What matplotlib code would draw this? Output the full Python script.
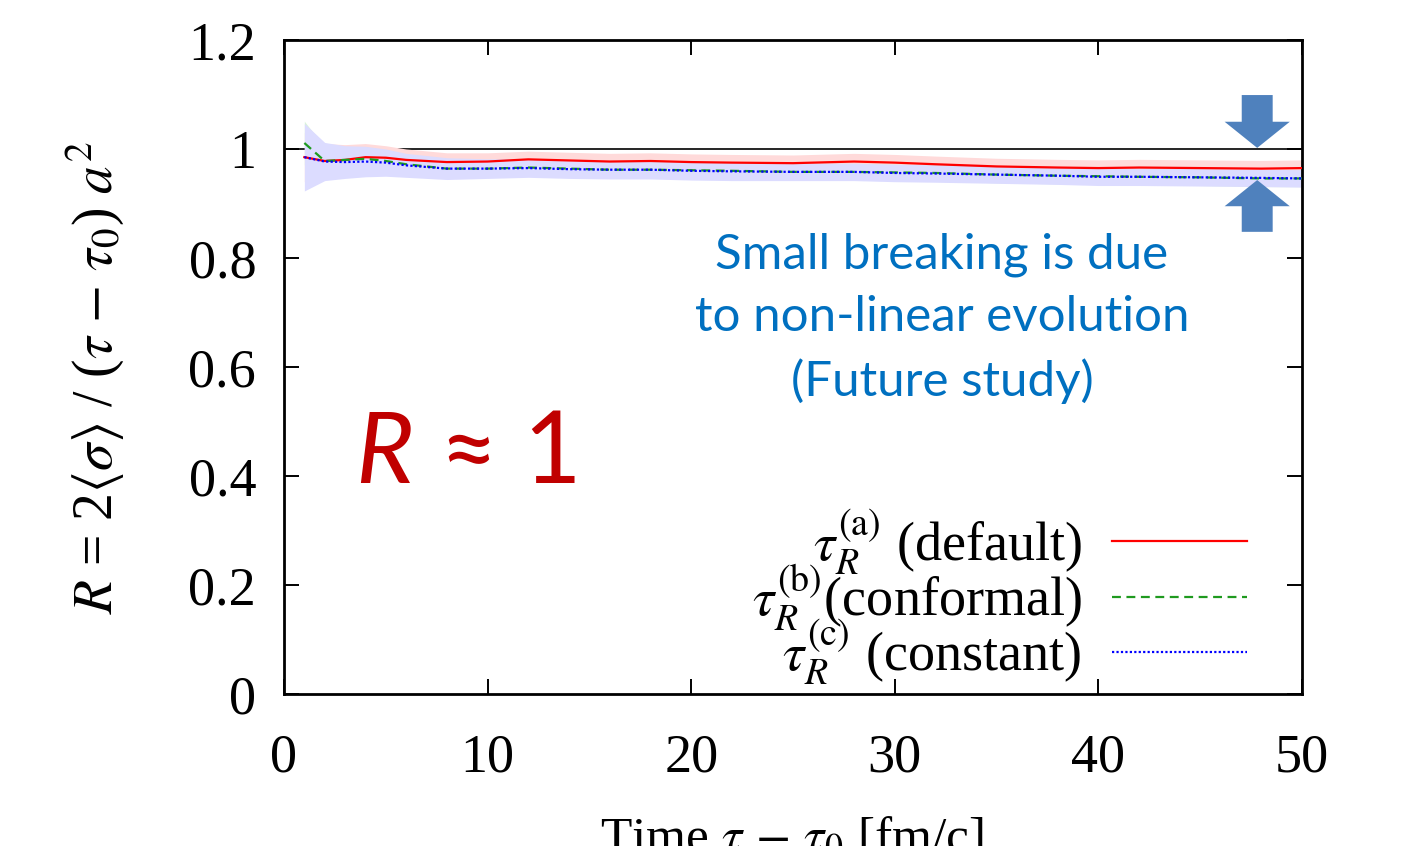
import matplotlib

matplotlib.use("Agg")
import matplotlib.pyplot as plt
from matplotlib.patches import FancyArrow

# time after tau_0 [fm/c]
TIME = [1, 2, 3, 4, 5, 6, 8, 10, 12, 14, 16, 18, 20, 22, 25, 28, 30, 32, 35, 38, 40, 42, 45, 48, 50]

# R for the three relaxation-time choices
R_DEFAULT = [0.985, 0.978, 0.980, 0.985, 0.984, 0.980, 0.976, 0.977, 0.981, 0.979, 0.977, 0.978,
             0.976, 0.975, 0.974, 0.977, 0.975, 0.972, 0.968, 0.966, 0.965, 0.966, 0.965, 0.964, 0.965]
R_CONFORMAL = [1.011, 0.978, 0.980, 0.982, 0.978, 0.972, 0.964, 0.964, 0.966, 0.964, 0.962, 0.962,
               0.961, 0.960, 0.958, 0.958, 0.957, 0.956, 0.953, 0.951, 0.950, 0.949, 0.948, 0.946, 0.946]
R_CONSTANT = [0.985, 0.977, 0.976, 0.977, 0.975, 0.970, 0.964, 0.964, 0.965, 0.963, 0.962, 0.962,
              0.960, 0.959, 0.958, 0.958, 0.956, 0.955, 0.953, 0.951, 0.949, 0.949, 0.948, 0.947, 0.946]

# half widths of the shaded bands
ERR_DEFAULT = [0.045, 0.032, 0.028, 0.025, 0.022, 0.020, 0.017, 0.016, 0.015, 0.015, 0.015, 0.015,
               0.015, 0.015, 0.015, 0.015, 0.015, 0.015, 0.015, 0.015, 0.015, 0.015, 0.015, 0.015, 0.015]
ERR_CONFORMAL = [0.040, 0.025, 0.022, 0.020, 0.018, 0.017, 0.016, 0.015, 0.015, 0.015, 0.015, 0.015,
                 0.015, 0.015, 0.015, 0.015, 0.015, 0.015, 0.015, 0.015, 0.015, 0.015, 0.015, 0.015, 0.015]
ERR_CONSTANT = [0.062, 0.035, 0.030, 0.028, 0.025, 0.022, 0.020, 0.018, 0.017, 0.017, 0.017, 0.017,
                0.017, 0.017, 0.016, 0.016, 0.016, 0.016, 0.016, 0.016, 0.016, 0.016, 0.016, 0.016, 0.016]

LABELS = [r"$\tau_R^{(\mathrm{a})}$ (default)",
          r"$\tau_R^{(\mathrm{b})}$(conformal)",
          r"$\tau_R^{(\mathrm{c})}$ (constant)"]

X_TICKS = [0, 10, 20, 30, 40, 50]
Y_TICKS = [0, 0.2, 0.4, 0.6, 0.8, 1.0, 1.2]
Y_TICKLABELS = ["0", "0.2", "0.4", "0.6", "0.8", "1", "1.2"]

LINE_COLORS = ["#ff0000", "#1f9a1f", "#0000ff"]
BAND_COLORS = ["#ffdada", "#d9f4d9", "#dcdcff"]
BLUE_NOTE = "#0070c0"
DARK_RED = "#c00000"
ARROW_BLUE = "#4f81bd"

W, H = 1406, 846

plt.rcParams["font.family"] = ["Liberation Serif", "DejaVu Serif"]
plt.rcParams["mathtext.fontset"] = "stix"

fig = plt.figure(figsize=(W / 100, H / 100), dpi=100)
ax = fig.add_axes([284 / W, 1 - 694 / H, (1302 - 284) / W, (694 - 40) / H])

ax.axhline(1.0, color="black", linewidth=1.2, zorder=1)

series = [R_DEFAULT, R_CONFORMAL, R_CONSTANT]
errors = [ERR_DEFAULT, ERR_CONFORMAL, ERR_CONSTANT]
for vals, err, band in zip(series, errors, BAND_COLORS):
    lo = [v - e for v, e in zip(vals, err)]
    hi = [v + e for v, e in zip(vals, err)]
    ax.fill_between(TIME, lo, hi, color=band, linewidth=0, zorder=2)

styles = ["-", (0, (4, 2.5)), (0, (1, 1))]
for vals, color, ls, label in zip(series, LINE_COLORS, styles, LABELS):
    ax.plot(TIME, vals, color=color, linestyle=ls, linewidth=1.6, label=label, zorder=3)

ax.set_xlim(0, 50)
ax.set_ylim(0, 1.2)
ax.set_xticks(X_TICKS)
ax.set_xticklabels([str(x) for x in X_TICKS])
ax.set_yticks(Y_TICKS)
ax.set_yticklabels(Y_TICKLABELS)
ax.tick_params(direction="in", top=True, right=True, length=11, width=1.4, labelsize=39)
ax.tick_params(axis="x", pad=28)
ax.tick_params(axis="y", pad=20)
for spine in ax.spines.values():
    spine.set_linewidth(2.0)

# gnuplot-style key: label on the left, sample line on the right
leg = ax.legend(loc="lower right", bbox_to_anchor=(0.946, 0.010), frameon=False,
                markerfirst=False, fontsize=39, handlelength=2.5, handletextpad=0.55,
                labelspacing=-0.28, borderpad=0, borderaxespad=0)

# axis titles (x title runs off the bottom edge like the source slide)
fig.text(95 / W, 1 - 378 / H, r"$R$ = 2$\langle\sigma\rangle$ / ($\tau$ $-$ $\tau_0$) $a^2$",
         rotation=90, ha="center", va="center", fontsize=40)
fig.text(792 / W, 1 - 816 / H, r"Time $\tau$ $-$ $\tau_0$ [fm/c]",
         ha="center", va="top", fontsize=37)

# slide annotations
fig.text(942 / W, 1 - 318 / H, "Small breaking is due\nto non-linear evolution\n(Future study)",
         ha="center", va="center", color=BLUE_NOTE, fontsize=35.5, family="Lato",
         linespacing=1.50)
fig.text(355 / W, 1 - 483 / H, "R", ha="left", va="baseline", color=DARK_RED,
         fontsize=72, family="Lato", style="italic")
fig.text(440 / W, 1 - 483 / H, "\u2248 1", ha="left", va="baseline", color=DARK_RED,
         fontsize=72, family="Lato")

# arrows pointing at the gap between the curves and R = 1
for y0, dy in [(1.099, -0.097), (0.848, 0.095)]:
    ax.add_patch(FancyArrow(47.8, y0, 0, dy, width=1.52, head_width=3.2, head_length=0.048,
                            length_includes_head=True, color=ARROW_BLUE, linewidth=0,
                            clip_on=False, zorder=5))

fig.savefig("out.png", dpi=100, facecolor="white")
